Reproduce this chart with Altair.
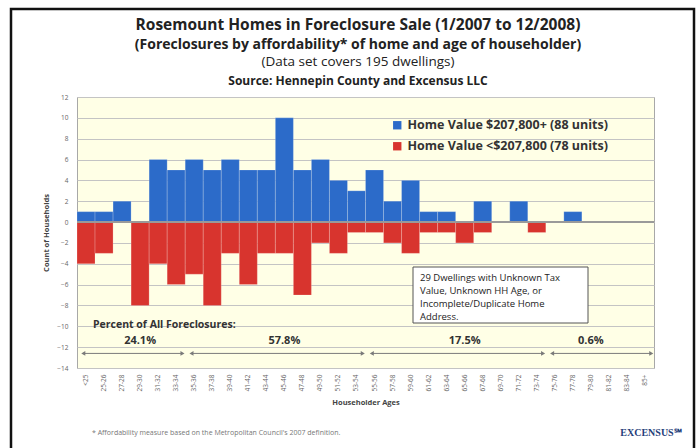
import altair as alt
import pandas as pd

ages = ["<25", "25-26", "27-28", "29-30", "31-32", "33-34", "35-36", "37-38",
        "39-40", "41-42", "43-44", "45-46", "47-48", "49-50", "51-52", "53-54",
        "55-56", "57-58", "59-60", "61-62", "63-64", "65-66", "67-68", "69-70",
        "71-72", "73-74", "75-76", "77-78", "79-80", "81-82", "83-84", "85+"]
high_value = [1, 1, 2, 0, 6, 5, 6, 5, 6, 5, 5, 10, 5, 6, 4, 3,
              5, 2, 4, 1, 1, 0, 2, 0, 2, 0, 0, 1, 0, 0, 0, 0]
low_value = [-4, -3, 0, -8, -4, -6, -5, -8, -3, -6, -3, -3, -7, -2, -3, -1,
             -1, -2, -3, -1, -1, -2, -1, 0, 0, -1, 0, 0, 0, 0, 0, 0]
series_names = ["Home Value $207,800+ (88 units)", "Home Value <$207,800 (78 units)"]
series_colors = ["#2C6BC9", "#D8342E"]

group_pct = ["24.1%", "57.8%", "17.5%", "0.6%"]
group_start = ["<25", "35-36", "55-56", "75-76"]
group_end = ["33-34", "53-54", "73-74", "85+"]
group_label_at = ["29-30", "45-46", "65-66", "79-80"]
y_ticks = [-14, -12, -10, -8, -6, -4, -2, 0, 2, 4, 6, 8, 10, 12]

title_lines = ["Rosemount Homes in Foreclosure Sale (1/2007 to 12/2008)",
               "(Foreclosures by affordability* of home and age of householder)",
               "(Data set covers 195 dwellings)",
               "Source: Hennepin County and Excensus LLC"]
note_lines = ["29 Dwellings with Unknown Tax", "Value, Unknown HH Age, or",
              "Incomplete/Duplicate Home", "Address."]
footnote = "* Affordability measure based on the Metropolitan Council's 2007 definition."
logo = "EXCENSUS\u2120"
pct_heading = "Percent of All Foreclosures:"

FONT = "Open Sans"

df = pd.DataFrame({
    "age": ages * 2,
    "series": [series_names[0]] * len(ages) + [series_names[1]] * len(ages),
    "value": high_value + low_value,
})
groups = pd.DataFrame({"pct": group_pct, "start": group_start,
                       "end": group_end, "at": group_label_at})

xscale = alt.Scale(domain=ages, paddingInner=0, paddingOuter=0)
yscale = alt.Scale(domain=[-14, 12], nice=False, zero=False)
x_axis = alt.Axis(title="Householder Ages", labelAngle=-90, labelFontSize=6.5,
                  labelColor="#666666", labelPadding=6, ticks=False, domain=False,
                  labelOverlap=False, titleFontSize=7.5, titleFontWeight="bold",
                  titleColor="#444444", titlePadding=8, labelFont=FONT, titleFont=FONT)
y_axis = alt.Axis(values=y_ticks, title="Count of Households",
                  grid=True, gridColor="#C4C4C4", gridWidth=1, domain=False,
                  ticks=False, labelFontSize=6.5, labelColor="#666666", labelOverlap=False,
                  labelPadding=9, titleFontSize=7.5, titleFontWeight="bold",
                  titleColor="#444444", titlePadding=6, labelFont=FONT, titleFont=FONT)


def ydatum(v):
    return alt.YDatum(v, scale=yscale, axis=y_axis)


bars = alt.Chart(df).mark_bar(stroke="white", strokeWidth=0.4, strokeOpacity=0.5).encode(
    x=alt.X("age:N", scale=xscale, sort=ages, axis=x_axis),
    y=alt.Y("value:Q", scale=yscale, axis=y_axis),
    color=alt.Color("series:N", scale=alt.Scale(domain=series_names, range=series_colors),
                    legend=alt.Legend(title=None, orient="none", legendX=314, legendY=22,
                                      symbolType="square", symbolSize=70,
                                      symbolStrokeWidth=0, labelLimit=0,
                                      labelFontSize=12.5, labelFontWeight="bold",
                                      labelColor="#333333", labelFont=FONT,
                                      rowPadding=8)),
)

zero_rule = alt.Chart(df).mark_rule(color="#9A9A9A", strokeWidth=1).encode(
    y=ydatum(0))

arrows = alt.Chart(groups).mark_rule(color="#7A7A7A", strokeWidth=1).encode(
    x=alt.X("start:N", scale=xscale, bandPosition=0.35, axis=x_axis),
    x2=alt.X2("end:N", bandPosition=0.85),
    y=ydatum(-12.6),
)
left_heads = alt.Chart(groups).mark_point(shape="triangle-left", filled=True, size=22,
                                          color="#7A7A7A", opacity=1).encode(
    x=alt.X("start:N", scale=xscale, bandPosition=0.35, axis=x_axis),
    y=ydatum(-12.6),
)
right_heads = alt.Chart(groups).mark_point(shape="triangle-right", filled=True, size=22,
                                           color="#7A7A7A", opacity=1).encode(
    x=alt.X("end:N", scale=xscale, bandPosition=0.85, axis=x_axis),
    y=ydatum(-12.6),
)
pct_text = alt.Chart(groups).mark_text(font=FONT, fontSize=11, fontWeight="bold",
                                       color="#333333").encode(
    x=alt.X("at:N", scale=xscale, axis=x_axis),
    y=ydatum(-11.4),
    text="pct:N",
)


def label(text, x, y, size, weight="normal", color="#222222", align="center", font=FONT):
    return alt.Chart(pd.DataFrame({"t": [text]})).mark_text(
        font=font, fontSize=size, fontWeight=weight, color=color, align=align,
        baseline="middle").encode(x=alt.value(x), y=alt.value(y), text="t:N")


frame = alt.Chart(pd.DataFrame({"t": [0]})).mark_rect(
    fill=None, fillOpacity=0, stroke="#111111", strokeWidth=2.5).encode(
    x=alt.value(-66), x2=alt.value(617), y=alt.value(-88), y2=alt.value(370))

note_box = alt.Chart(pd.DataFrame({"t": [0]})).mark_rect(
    fill="white", stroke="#555555", strokeWidth=1).encode(
    x=alt.value(336), x2=alt.value(511), y=alt.value(170), y2=alt.value(226))

layers = [bars, zero_rule, arrows, left_heads, right_heads, pct_text, frame, note_box]
title_specs = [(title_lines[0], -72, 15.5, "bold"), (title_lines[1], -52, 14, "bold"),
               (title_lines[2], -35, 13.5, "normal"), (title_lines[3], -16, 12, "bold")]
for t, y, s, w in title_specs:
    layers.append(label(t, 281, y, s, w))
for i, t in enumerate(note_lines):
    layers.append(label(t, 343, 181 + 13 * i, 9.5, align="left"))
layers.append(label(pct_heading, 16, 228, 10.5, "bold", "#333333", align="left"))
layers.append(label(footnote, 15, 336, 7, color="#777777", align="left"))
layers.append(label(logo, 574, 336, 10, "bold", "#1F3E7A", font="Liberation Serif"))

chart = alt.layer(*layers).properties(
    width=577, height=271,
    autosize=alt.AutoSizeParams(type="none"),
    padding={"left": 77, "top": 97, "right": 45, "bottom": 80},
    background="white",
).configure_view(fill="#FFFFE6", stroke="#A8A8A8", strokeWidth=1)

chart.save("out.html", embed_options={"renderer": "svg", "actions": False})
